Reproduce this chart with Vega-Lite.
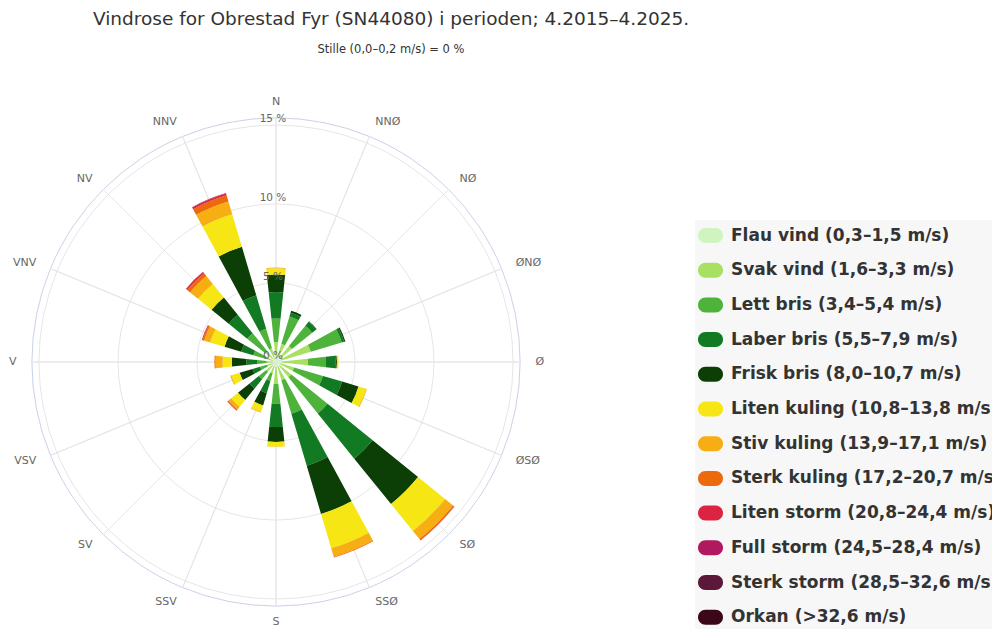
{
  "$schema": "https://vega.github.io/schema/vega-lite/v6.json",
  "width": 488,
  "height": 488,
  "autosize": "none",
  "padding": {"left": 32, "top": 118, "right": 472, "bottom": 25},
  "background": "white",
  "title": {
    "text": "Vindrose for Obrestad Fyr (SN44080) i perioden; 4.2015–4.2025.",
    "subtitle": "Stille (0,0–0,2 m/s) = 0 %",
    "anchor": "middle",
    "frame": "group",
    "dx": 115,
    "offset": 41,
    "font": "DejaVu Sans",
    "fontSize": 18.5,
    "fontWeight": "normal",
    "color": "#333333",
    "subtitleFont": "DejaVu Sans",
    "subtitleFontSize": 11.5,
    "subtitleColor": "#333333",
    "subtitlePadding": 15
  },
  "config": {"view": {"stroke": null}},
  "datasets": {
    "dirs": [
      {"dir": "N"}, {"dir": "NNØ"}, {"dir": "NØ"}, {"dir": "ØNØ"},
      {"dir": "Ø"}, {"dir": "ØSØ"}, {"dir": "SØ"}, {"dir": "SSØ"},
      {"dir": "S"}, {"dir": "SSV"}, {"dir": "SV"}, {"dir": "VSV"},
      {"dir": "V"}, {"dir": "VNV"}, {"dir": "NV"}, {"dir": "NNV"}
    ],
    "classes": [
      {"k": 1, "cat": "Flau vind (0,3–1,5 m/s)"},
      {"k": 2, "cat": "Svak vind (1,6–3,3 m/s)"},
      {"k": 3, "cat": "Lett bris (3,4–5,4 m/s)"},
      {"k": 4, "cat": "Laber bris (5,5–7,9 m/s)"},
      {"k": 5, "cat": "Frisk bris (8,0–10,7 m/s)"},
      {"k": 6, "cat": "Liten kuling (10,8–13,8 m/s)"},
      {"k": 7, "cat": "Stiv kuling (13,9–17,1 m/s)"},
      {"k": 8, "cat": "Sterk kuling (17,2–20,7 m/s)"},
      {"k": 9, "cat": "Liten storm (20,8–24,4 m/s)"},
      {"k": 10, "cat": "Full storm (24,5–28,4 m/s)"},
      {"k": 11, "cat": "Sterk storm (28,5–32,6 m/s)"},
      {"k": 12, "cat": "Orkan (>32,6 m/s)"}
    ],
    "wind": [
      {"dir": "N", "k": 1, "pct": 0.35}, {"dir": "N", "k": 2, "pct": 0.92}, {"dir": "N", "k": 3, "pct": 1.48}, {"dir": "N", "k": 4, "pct": 1.68}, {"dir": "N", "k": 5, "pct": 1.11}, {"dir": "N", "k": 6, "pct": 0.39}, {"dir": "N", "k": 7, "pct": 0.05},
      {"dir": "NNØ", "k": 1, "pct": 0.3}, {"dir": "NNØ", "k": 2, "pct": 0.9}, {"dir": "NNØ", "k": 3, "pct": 1.8}, {"dir": "NNØ", "k": 4, "pct": 0.25}, {"dir": "NNØ", "k": 5, "pct": 0.13},
      {"dir": "NØ", "k": 1, "pct": 0.3}, {"dir": "NØ", "k": 2, "pct": 1.0}, {"dir": "NØ", "k": 3, "pct": 1.65}, {"dir": "NØ", "k": 4, "pct": 0.33}, {"dir": "NØ", "k": 5, "pct": 0.03},
      {"dir": "ØNØ", "k": 1, "pct": 0.35}, {"dir": "ØNØ", "k": 2, "pct": 1.95}, {"dir": "ØNØ", "k": 3, "pct": 2.04}, {"dir": "ØNØ", "k": 4, "pct": 0.16}, {"dir": "ØNØ", "k": 5, "pct": 0.08},
      {"dir": "Ø", "k": 1, "pct": 0.35}, {"dir": "Ø", "k": 2, "pct": 1.68}, {"dir": "Ø", "k": 3, "pct": 1.14}, {"dir": "Ø", "k": 4, "pct": 0.6}, {"dir": "Ø", "k": 5, "pct": 0.09}, {"dir": "Ø", "k": 6, "pct": 0.1},
      {"dir": "ØSØ", "k": 1, "pct": 0.3}, {"dir": "ØSØ", "k": 2, "pct": 0.9}, {"dir": "ØSØ", "k": 3, "pct": 1.9}, {"dir": "ØSØ", "k": 4, "pct": 1.27}, {"dir": "ØSØ", "k": 5, "pct": 1.08}, {"dir": "ØSØ", "k": 6, "pct": 0.5}, {"dir": "ØSØ", "k": 7, "pct": 0.05},
      {"dir": "SØ", "k": 1, "pct": 0.3}, {"dir": "SØ", "k": 2, "pct": 0.95}, {"dir": "SØ", "k": 3, "pct": 2.95}, {"dir": "SØ", "k": 4, "pct": 3.67}, {"dir": "SØ", "k": 5, "pct": 3.7}, {"dir": "SØ", "k": 6, "pct": 2.2}, {"dir": "SØ", "k": 7, "pct": 0.65}, {"dir": "SØ", "k": 8, "pct": 0.1}, {"dir": "SØ", "k": 9, "pct": 0.02},
      {"dir": "SSØ", "k": 1, "pct": 0.3}, {"dir": "SSØ", "k": 2, "pct": 0.9}, {"dir": "SSØ", "k": 3, "pct": 2.22}, {"dir": "SSØ", "k": 4, "pct": 3.43}, {"dir": "SSØ", "k": 5, "pct": 3.18}, {"dir": "SSØ", "k": 6, "pct": 2.27}, {"dir": "SSØ", "k": 7, "pct": 0.55}, {"dir": "SSØ", "k": 8, "pct": 0.05},
      {"dir": "S", "k": 1, "pct": 0.3}, {"dir": "S", "k": 2, "pct": 1.1}, {"dir": "S", "k": 3, "pct": 1.24}, {"dir": "S", "k": 4, "pct": 1.48}, {"dir": "S", "k": 5, "pct": 0.94}, {"dir": "S", "k": 6, "pct": 0.3}, {"dir": "S", "k": 7, "pct": 0.02},
      {"dir": "SSV", "k": 1, "pct": 0.25}, {"dir": "SSV", "k": 2, "pct": 0.5}, {"dir": "SSV", "k": 3, "pct": 0.5}, {"dir": "SSV", "k": 4, "pct": 0.8}, {"dir": "SSV", "k": 5, "pct": 0.82}, {"dir": "SSV", "k": 6, "pct": 0.42}, {"dir": "SSV", "k": 7, "pct": 0.05},
      {"dir": "SV", "k": 1, "pct": 0.25}, {"dir": "SV", "k": 2, "pct": 0.55}, {"dir": "SV", "k": 3, "pct": 0.6}, {"dir": "SV", "k": 4, "pct": 0.75}, {"dir": "SV", "k": 5, "pct": 0.95}, {"dir": "SV", "k": 6, "pct": 0.55}, {"dir": "SV", "k": 7, "pct": 0.22}, {"dir": "SV", "k": 8, "pct": 0.08}, {"dir": "SV", "k": 9, "pct": 0.02},
      {"dir": "VSV", "k": 1, "pct": 0.2}, {"dir": "VSV", "k": 2, "pct": 0.4}, {"dir": "VSV", "k": 3, "pct": 0.45}, {"dir": "VSV", "k": 4, "pct": 0.5}, {"dir": "VSV", "k": 5, "pct": 0.85}, {"dir": "VSV", "k": 6, "pct": 0.55}, {"dir": "VSV", "k": 7, "pct": 0.07},
      {"dir": "V", "k": 1, "pct": 0.2}, {"dir": "V", "k": 2, "pct": 0.4}, {"dir": "V", "k": 3, "pct": 0.6}, {"dir": "V", "k": 4, "pct": 0.68}, {"dir": "V", "k": 5, "pct": 0.92}, {"dir": "V", "k": 6, "pct": 0.58}, {"dir": "V", "k": 7, "pct": 0.45}, {"dir": "V", "k": 8, "pct": 0.07},
      {"dir": "VNV", "k": 1, "pct": 0.2}, {"dir": "VNV", "k": 2, "pct": 0.45}, {"dir": "VNV", "k": 3, "pct": 0.85}, {"dir": "VNV", "k": 4, "pct": 0.8}, {"dir": "VNV", "k": 5, "pct": 1.1}, {"dir": "VNV", "k": 6, "pct": 0.95}, {"dir": "VNV", "k": 7, "pct": 0.4}, {"dir": "VNV", "k": 8, "pct": 0.1}, {"dir": "VNV", "k": 9, "pct": 0.05},
      {"dir": "NV", "k": 1, "pct": 0.25}, {"dir": "NV", "k": 2, "pct": 0.6}, {"dir": "NV", "k": 3, "pct": 1.5}, {"dir": "NV", "k": 4, "pct": 1.5}, {"dir": "NV", "k": 5, "pct": 1.4}, {"dir": "NV", "k": 6, "pct": 1.1}, {"dir": "NV", "k": 7, "pct": 0.65}, {"dir": "NV", "k": 8, "pct": 0.23}, {"dir": "NV", "k": 9, "pct": 0.1}, {"dir": "NV", "k": 10, "pct": 0.02},
      {"dir": "NNV", "k": 1, "pct": 0.25}, {"dir": "NNV", "k": 2, "pct": 0.65}, {"dir": "NNV", "k": 3, "pct": 1.3}, {"dir": "NNV", "k": 4, "pct": 2.2}, {"dir": "NNV", "k": 5, "pct": 3.2}, {"dir": "NNV", "k": 6, "pct": 2.15}, {"dir": "NNV", "k": 7, "pct": 0.85}, {"dir": "NNV", "k": 8, "pct": 0.4}, {"dir": "NNV", "k": 9, "pct": 0.12}, {"dir": "NNV", "k": 10, "pct": 0.03}
    ]
  },
  "layer": [
    {
      "data": {"values": [{}]},
      "mark": {"type": "arc", "theta": 0, "theta2": 6.2832, "fill": null, "stroke": "#c9d2e8", "strokeWidth": 1},
      "encoding": {
        "radius": {"datum": 15.45, "type": "quantitative", "stack": null, "scale": {"type": "linear", "domain": [0, 15], "range": [0, 237], "zero": true, "nice": false}}
      }
    },
    {
      "data": {"values": [{"v": 5}, {"v": 10}, {"v": 15}]},
      "mark": {"type": "arc", "theta": 0, "theta2": 6.2832, "fill": null, "stroke": "#e6e6e6", "strokeWidth": 1},
      "encoding": {
        "radius": {"field": "v", "type": "quantitative", "stack": null, "scale": {"type": "linear", "domain": [0, 15], "range": [0, 237], "zero": true, "nice": false}}
      }
    },
    {
      "data": {"name": "dirs"},
      "mark": {"type": "arc", "fill": null, "stroke": "#e6e6e6", "strokeWidth": 1},
      "encoding": {
        "theta": {"field": "dir", "type": "nominal", "sort": null, "scale": {"type": "band", "domain": ["N", "NNØ", "NØ", "ØNØ", "Ø", "ØSØ", "SØ", "SSØ", "S", "SSV", "SV", "VSV", "V", "VNV", "NV", "NNV"], "range": [-0.19635, 6.086836], "paddingInner": 1, "paddingOuter": 0.5}},
        "radius": {"datum": 15.45, "type": "quantitative", "stack": null, "scale": {"type": "linear", "domain": [0, 15], "range": [0, 237], "zero": true, "nice": false}},
        "radius2": {"datum": 0}
      }
    },
    {
      "data": {"name": "wind"},
      "transform": [
        {"lookup": "k", "from": {"data": {"name": "classes"}, "key": "k", "fields": ["cat"]}},
        {"stack": "pct", "groupby": ["dir"], "sort": [{"field": "k", "order": "ascending"}], "as": ["r0", "r1"]}
      ],
      "mark": {"type": "arc", "strokeWidth": 0},
      "encoding": {
        "theta": {"field": "dir", "type": "nominal", "sort": null, "scale": {"type": "band", "domain": ["N", "NNØ", "NØ", "ØNØ", "Ø", "ØSØ", "SØ", "SSØ", "S", "SSV", "SV", "VSV", "V", "VNV", "NV", "NNV"], "range": [-0.19635, 6.086836], "paddingInner": 0.467, "paddingOuter": 0.2335}},
        "radius": {"field": "r1", "type": "quantitative", "stack": null, "scale": {"type": "linear", "domain": [0, 15], "range": [0, 237], "zero": true, "nice": false}},
        "radius2": {"field": "r0"},
        "color": {
          "field": "cat",
          "type": "nominal",
          "scale": {
            "domain": ["Flau vind (0,3–1,5 m/s)", "Svak vind (1,6–3,3 m/s)", "Lett bris (3,4–5,4 m/s)", "Laber bris (5,5–7,9 m/s)", "Frisk bris (8,0–10,7 m/s)", "Liten kuling (10,8–13,8 m/s)", "Stiv kuling (13,9–17,1 m/s)", "Sterk kuling (17,2–20,7 m/s)", "Liten storm (20,8–24,4 m/s)", "Full storm (24,5–28,4 m/s)", "Sterk storm (28,5–32,6 m/s)", "Orkan (>32,6 m/s)"],
            "range": ["#d0f4c0", "#a8e063", "#4eb33a", "#117a22", "#0c3f06", "#f5e614", "#f6ae13", "#ed6a0c", "#dc2342", "#b0195f", "#5c1838", "#3a0818"]
          },
          "legend": {
            "orient": "none",
            "legendX": 663,
            "legendY": 102,
            "title": null,
            "fillColor": "#f7f7f7",
            "padding": 3,
            "symbolType": "M-0.4,-0.6L0.4,-0.6A0.6,0.6 0 0 1 0.4,0.6L-0.4,0.6A0.6,0.6 0 0 1 -0.4,-0.6Z",
            "symbolSize": 625,
            "symbolStrokeWidth": 0,
            "symbolOpacity": 1,
            "labelFont": "DejaVu Sans",
            "labelFontSize": 17,
            "labelFontWeight": "bold",
            "labelColor": "#333333",
            "labelOffset": 8,
            "labelLimit": 500,
            "rowPadding": 13.7
          }
        }
      }
    },
    {
      "data": {"values": [{"v": 0, "lab": "0 %"}, {"v": 5, "lab": "5 %"}, {"v": 10, "lab": "10 %"}, {"v": 15, "lab": "15 %"}]},
      "mark": {"type": "text", "theta": 0, "align": "center", "baseline": "bottom", "dx": -3, "dy": -1, "font": "DejaVu Sans", "fontSize": 10.5, "color": "#666666"},
      "encoding": {
        "radius": {"field": "v", "type": "quantitative", "scale": {"type": "linear", "domain": [0, 15], "range": [0, 237], "zero": true, "nice": false}},
        "text": {"field": "lab"}
      }
    },
    {
      "data": {"name": "dirs"},
      "transform": [{"filter": {"field": "dir", "oneOf": ["NNØ", "NØ", "ØNØ", "Ø", "ØSØ", "SØ", "SSØ"]}}],
      "mark": {"type": "text", "align": "left", "baseline": "middle", "font": "DejaVu Sans", "fontSize": 11, "color": "#666666"},
      "encoding": {
        "theta": {"field": "dir", "type": "nominal", "sort": null, "scale": {"type": "band", "domain": ["N", "NNØ", "NØ", "ØNØ", "Ø", "ØSØ", "SØ", "SSØ", "S", "SSV", "SV", "VSV", "V", "VNV", "NV", "NNV"], "range": [-0.19635, 6.086836], "paddingInner": 1, "paddingOuter": 0.5}},
        "radius": {"datum": 16.42, "type": "quantitative", "scale": {"type": "linear", "domain": [0, 15], "range": [0, 237], "zero": true, "nice": false}},
        "text": {"field": "dir"}
      }
    },
    {
      "data": {"name": "dirs"},
      "transform": [{"filter": {"field": "dir", "oneOf": ["SSV", "SV", "VSV", "V", "VNV", "NV", "NNV"]}}],
      "mark": {"type": "text", "align": "right", "baseline": "middle", "font": "DejaVu Sans", "fontSize": 11, "color": "#666666"},
      "encoding": {
        "theta": {"field": "dir", "type": "nominal", "sort": null, "scale": {"type": "band", "domain": ["N", "NNØ", "NØ", "ØNØ", "Ø", "ØSØ", "SØ", "SSØ", "S", "SSV", "SV", "VSV", "V", "VNV", "NV", "NNV"], "range": [-0.19635, 6.086836], "paddingInner": 1, "paddingOuter": 0.5}},
        "radius": {"datum": 16.42, "type": "quantitative", "scale": {"type": "linear", "domain": [0, 15], "range": [0, 237], "zero": true, "nice": false}},
        "text": {"field": "dir"}
      }
    },
    {
      "data": {"name": "dirs"},
      "transform": [{"filter": {"field": "dir", "oneOf": ["N", "S"]}}],
      "mark": {"type": "text", "align": "center", "baseline": "middle", "font": "DejaVu Sans", "fontSize": 11, "color": "#666666"},
      "encoding": {
        "theta": {"field": "dir", "type": "nominal", "sort": null, "scale": {"type": "band", "domain": ["N", "NNØ", "NØ", "ØNØ", "Ø", "ØSØ", "SØ", "SSØ", "S", "SSV", "SV", "VSV", "V", "VNV", "NV", "NNV"], "range": [-0.19635, 6.086836], "paddingInner": 1, "paddingOuter": 0.5}},
        "radius": {"datum": 16.45, "type": "quantitative", "scale": {"type": "linear", "domain": [0, 15], "range": [0, 237], "zero": true, "nice": false}},
        "text": {"field": "dir"}
      }
    }
  ],
  "resolve": {"scale": {"theta": "independent", "radius": "independent"}}
}
